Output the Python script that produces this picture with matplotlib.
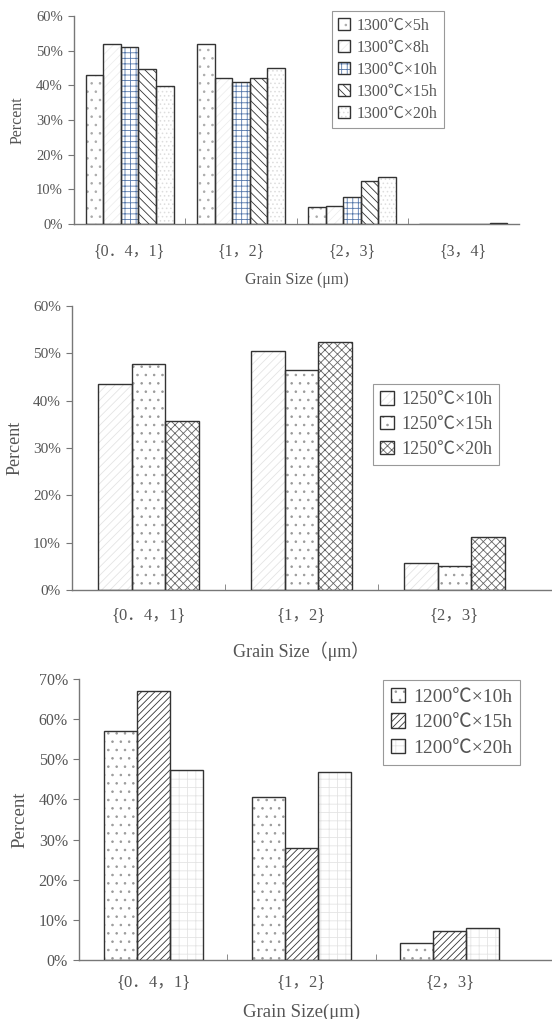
import matplotlib
matplotlib.use("Agg")
import matplotlib.pyplot as plt
from matplotlib.patches import Patch
from matplotlib.legend_handler import HandlerTuple
import numpy as np

plt.rcParams['font.family'] = ['Liberation Serif', 'Noto Sans CJK SC', 'DejaVu Sans']
plt.rcParams['hatch.linewidth'] = 0.6

# ---------------- data ----------------
cats1 = ["{0．4，1}", "{1，2}", "{2，3}", "{3，4}"]
series1 = ["1300℃×5h", "1300℃×8h", "1300℃×10h", "1300℃×15h", "1300℃×20h"]
v1_5h = [43.1, 52.0, 4.8, 0.0]
v1_8h = [52.0, 42.2, 5.3, 0.0]
v1_10h = [51.2, 41.1, 7.9, 0.0]
v1_15h = [44.7, 42.2, 12.3, 0.0]
v1_20h = [39.7, 45.1, 13.7, 0.3]

cats2 = ["{0．4，1}", "{1，2}", "{2，3}"]
series2 = ["1250℃×10h", "1250℃×15h", "1250℃×20h"]
v2_10h = [43.5, 50.5, 5.8]
v2_15h = [47.7, 46.5, 5.1]
v2_20h = [35.6, 52.4, 11.2]

cats3 = ["{0．4，1}", "{1，2}", "{2，3}"]
series3 = ["1200℃×10h", "1200℃×15h", "1200℃×20h"]
v3_10h = [57.0, 40.6, 4.2]
v3_15h = [66.9, 28.0, 7.2]
v3_20h = [47.4, 46.9, 8.0]

W, H = 552, 1019
fig = plt.figure(figsize=(W / 100, H / 100), dpi=100)

TXT = '#555555'
EDGE = '#333333'
AX = '#777777'


def axes_px(left, top, right, bottom):
    return fig.add_axes([left / W, 1 - bottom / H, (right - left) / W, (bottom - top) / H])


def panel(ax, cats, series, values, styles, barw, ymax, ystep, xr_extra,
          legend_loc, leg_fs, leg_sp, tick_fs, cat_fs, lab_fs, xlabel, xlab_y, ylab_x, cat_pad):
    n = len(series)
    x = np.arange(len(cats))
    handles = []
    for i, (vals, (hatch, hcol)) in enumerate(zip(values, styles)):
        pos = x + (i - (n - 1) / 2) * barw
        ax.bar(pos, vals, barw, facecolor='white', edgecolor=hcol, hatch=hatch, linewidth=0, zorder=2)
        ax.bar(pos, vals, barw, fill=False, edgecolor=EDGE, linewidth=1.0, zorder=3)
        h1 = Patch(facecolor='white', edgecolor=hcol, hatch=hatch, linewidth=0)
        h2 = Patch(fill=False, edgecolor=EDGE, linewidth=1.0)
        handles.append((h1, h2))
    ax.set_xlim(-0.5, len(cats) - 0.5 + xr_extra)
    ax.set_ylim(0, ymax)
    yt = np.arange(0, ymax + 0.1, ystep)
    ax.set_yticks(yt)
    ax.set_yticklabels([f"{int(t)}%" for t in yt], fontsize=tick_fs, color=TXT)
    ax.set_xticks(x)
    ax.set_xticklabels(cats, fontsize=cat_fs, color=TXT)
    ax.set_xticks(np.arange(len(cats) - 1) + 0.5, minor=True)
    ax.tick_params(axis='x', which='major', length=0, pad=cat_pad)
    ax.tick_params(axis='x', which='minor', length=4, direction='in', color=AX)
    ax.tick_params(axis='y', length=4, direction='out', color=AX, pad=4)
    for s in ['top', 'right']:
        ax.spines[s].set_visible(False)
    for s in ['left', 'bottom']:
        ax.spines[s].set_color(AX)
        ax.spines[s].set_linewidth(1.0)
    ax.set_facecolor('none')
    ax.set_ylabel('Percent', fontsize=lab_fs, color=TXT)
    ax.yaxis.set_label_coords(ylab_x, 0.5)
    ax.set_xlabel(xlabel, fontsize=lab_fs, color=TXT)
    ax.xaxis.set_label_coords(0.5 * (len(cats)) / (len(cats) + xr_extra), xlab_y)
    leg = ax.legend(handles, series, handler_map={tuple: HandlerTuple(ndivide=1)},
                    loc='upper left', bbox_to_anchor=legend_loc, fontsize=leg_fs,
                    frameon=True, fancybox=False, edgecolor='#999999', framealpha=1,
                    handlelength=0.75, handleheight=0.75, handletextpad=0.4,
                    labelspacing=leg_sp, borderpad=0.4, borderaxespad=0)
    leg.get_frame().set_linewidth(0.8)
    for t in leg.get_texts():
        t.set_color(TXT)
    return ax


# ---------------- panel 1 ----------------
ax1 = axes_px(74, 16, 519, 224)
styles1 = [('..', '#aaaaaa'), ('////', '#eeeeee'), ('+++', '#5577aa'), ('\\\\\\\\', '#333333'), ('....', '#dddddd')]
panel(ax1, cats1, series1, [v1_5h, v1_8h, v1_10h, v1_15h, v1_20h], styles1,
      barw=0.158, ymax=60, ystep=10, xr_extra=0.0,
      legend_loc=((332 - 74) / 445, 1 - (11 - 16) / 208), leg_fs=11.5, leg_sp=0.38,
      tick_fs=10.5, cat_fs=11.5, lab_fs=11.5,
      xlabel='Grain Size (μm)', xlab_y=-0.23, ylab_x=-0.108, cat_pad=14)

# ---------------- panel 2 ----------------
ax2 = axes_px(72, 306, 552, 590)
styles2 = [('////', '#e4e4e4'), ('..', '#999999'), ('xxxx', '#666666')]
panel(ax2, cats2, series2, [v2_10h, v2_15h, v2_20h], styles2,
      barw=0.22, ymax=60, ystep=10, xr_extra=(552 - 531) / 153,
      legend_loc=((373 - 72) / 480, 1 - (384 - 306) / 284), leg_fs=13, leg_sp=0.43,
      tick_fs=11, cat_fs=12, lab_fs=13,
      xlabel='Grain Size（μm）', xlab_y=-0.18, ylab_x=-0.102, cat_pad=12)

# ---------------- panel 3 ----------------
ax3 = axes_px(79, 679, 552, 960)
styles3 = [('..', '#999999'), ('/////', '#333333'), ('++', '#e4e4e4')]
panel(ax3, cats3, series3, [v3_10h, v3_15h, v3_20h], styles3,
      barw=0.222, ymax=70, ystep=10, xr_extra=(552 - 524) / 148.5,
      legend_loc=((383 - 79) / 473, 1 - (680 - 679) / 281), leg_fs=14, leg_sp=0.4,
      tick_fs=11.5, cat_fs=12, lab_fs=13.5,
      xlabel='Grain Size(μm)', xlab_y=-0.155, ylab_x=-0.106, cat_pad=10)

fig.savefig('out.png', dpi=100, facecolor='white')
